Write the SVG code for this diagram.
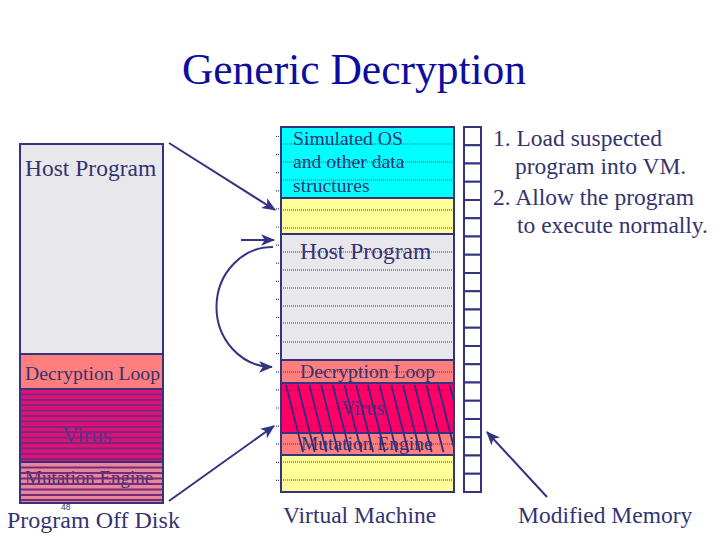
<svg xmlns="http://www.w3.org/2000/svg" width="720" height="540" viewBox="0 0 720 540">
<style>
.t{font-family:"Liberation Serif","Times New Roman",serif;fill:#333370}
.box{stroke:#333380;stroke-width:2}
.dot{stroke:#333380;stroke-width:1.2;stroke-dasharray:1 1;fill:none}
.con{stroke:#333380;stroke-width:2;fill:none}
.str{stroke:#762a7a;stroke-width:1.8}
.hat{stroke:#2e2e80;stroke-width:1.8}
.cell{fill:#fff;stroke:#333380;stroke-width:2}
</style>
<defs>
<marker id="ah" viewBox="0 0 12 10" refX="11" refY="5" markerWidth="7" markerHeight="6" orient="auto" markerUnits="strokeWidth">
<path d="M0,0 L12,5 L0,10 L3,5 Z" fill="#333380"/>
</marker>
<clipPath id="vmclip"><rect x="282" y="383" width="171" height="72"/></clipPath>
</defs>
<rect width="720" height="540" fill="#fff"/>
<text id="title" x="354" y="84" text-anchor="middle" font-family="Liberation Serif, Times New Roman, serif" font-size="43.5" fill="#0d0d9e">Generic Decryption</text>

<g id="program-off-disk">
<rect x="20" y="144" width="143" height="210" fill="#e8e8ec" class="box"/>
<rect x="20" y="354" width="143" height="35" fill="#ff7f7f" class="box"/>
<rect x="20" y="389" width="143" height="73" fill="#dd1177" class="box"/>
<rect x="20" y="462" width="143" height="41" fill="#e8869a" class="box"/>
<text class="t" x="25" y="176" font-size="23.5">Host Program</text>
<text class="t" x="25" y="380" font-size="19.7">Decryption Loop</text>
<text class="t" x="62" y="443" font-size="23" style="fill:#5a2f9a">Virus</text>
<text class="t" x="25" y="484" font-size="19">Mutation Engine</text>
<g class="str">
<line x1="21" y1="394.4" x2="162" y2="394.4"/><line x1="21" y1="399.8" x2="162" y2="399.8"/><line x1="21" y1="405.2" x2="162" y2="405.2"/><line x1="21" y1="410.6" x2="162" y2="410.6"/><line x1="21" y1="416" x2="162" y2="416"/><line x1="21" y1="421.4" x2="162" y2="421.4"/><line x1="21" y1="426.8" x2="162" y2="426.8"/><line x1="21" y1="432.2" x2="162" y2="432.2"/><line x1="21" y1="437.6" x2="162" y2="437.6"/><line x1="21" y1="443" x2="162" y2="443"/><line x1="21" y1="448.4" x2="162" y2="448.4"/><line x1="21" y1="453.8" x2="162" y2="453.8"/><line x1="21" y1="459.2" x2="162" y2="459.2"/>
<line x1="21" y1="467.5" x2="162" y2="467.5"/><line x1="21" y1="473" x2="162" y2="473"/><line x1="21" y1="478.5" x2="162" y2="478.5"/><line x1="21" y1="484" x2="162" y2="484"/><line x1="21" y1="489.5" x2="162" y2="489.5"/><line x1="21" y1="495" x2="162" y2="495"/><line x1="21" y1="500" x2="162" y2="500"/>
</g>
<text x="61" y="510" font-family="Liberation Sans, Arial, sans-serif" font-size="8.5" fill="#333370">48</text>
<text class="t" x="7" y="528" font-size="24">Program Off Disk</text>
</g>

<g id="virtual-machine">
<rect x="281" y="127" width="173" height="71" fill="#00ffff" class="box"/>
<rect x="281" y="198" width="173" height="36" fill="#ffff99" class="box"/>
<rect x="281" y="234" width="173" height="126" fill="#e8e8ec" class="box"/>
<rect x="281" y="360" width="173" height="23" fill="#ff7f7f" class="box"/>
<rect x="281" y="383" width="173" height="50" fill="#ff0066" class="box"/>
<rect x="281" y="433" width="173" height="22" fill="#ff7f7f" class="box"/>
<rect x="281" y="455" width="173" height="37" fill="#ffff99" class="box"/>
<g class="dot">
<line x1="283" y1="144" x2="452" y2="144"/><line x1="283" y1="162" x2="452" y2="162"/><line x1="283" y1="180" x2="452" y2="180"/>
<line x1="283" y1="210" x2="452" y2="210"/><line x1="283" y1="228" x2="452" y2="228"/>
<line x1="283" y1="252" x2="452" y2="252"/><line x1="283" y1="270" x2="452" y2="270"/><line x1="283" y1="288" x2="452" y2="288"/><line x1="283" y1="306" x2="452" y2="306"/><line x1="283" y1="323" x2="452" y2="323"/><line x1="283" y1="342" x2="452" y2="342"/>
<line x1="283" y1="372" x2="452" y2="372"/><line x1="283" y1="390" x2="452" y2="390"/><line x1="283" y1="408" x2="452" y2="408"/><line x1="283" y1="426" x2="452" y2="426"/><line x1="283" y1="444" x2="452" y2="444"/><line x1="283" y1="462" x2="452" y2="462"/><line x1="283" y1="480" x2="452" y2="480"/>
<line x1="276" y1="136.5" x2="281" y2="136.5"/><line x1="276" y1="154.6" x2="281" y2="154.6"/><line x1="276" y1="172.7" x2="281" y2="172.7"/><line x1="276" y1="190.8" x2="281" y2="190.8"/><line x1="276" y1="208.9" x2="281" y2="208.9"/><line x1="276" y1="227" x2="281" y2="227"/><line x1="276" y1="245.1" x2="281" y2="245.1"/><line x1="276" y1="263.2" x2="281" y2="263.2"/><line x1="276" y1="281.3" x2="281" y2="281.3"/><line x1="276" y1="299.4" x2="281" y2="299.4"/><line x1="276" y1="317.5" x2="281" y2="317.5"/><line x1="276" y1="335.6" x2="281" y2="335.6"/><line x1="276" y1="353.7" x2="281" y2="353.7"/><line x1="276" y1="371.8" x2="281" y2="371.8"/><line x1="276" y1="389.9" x2="281" y2="389.9"/><line x1="276" y1="408" x2="281" y2="408"/><line x1="276" y1="426.1" x2="281" y2="426.1"/><line x1="276" y1="444.2" x2="281" y2="444.2"/><line x1="276" y1="462.3" x2="281" y2="462.3"/><line x1="276" y1="480.4" x2="281" y2="480.4"/>
</g>
<text class="t" x="293" y="145" font-size="19.7">Simulated OS</text>
<text class="t" x="293" y="168" font-size="19.7">and other data</text>
<text class="t" x="293" y="192" font-size="19.7">structures</text>
<text class="t" x="300" y="259" font-size="23.5">Host Program</text>
<text class="t" x="300" y="378" font-size="19.7">Decryption Loop</text>
<text class="t" x="341" y="415" font-size="20" style="fill:#4a2a8a">Virus</text>
<text class="t" x="301" y="450" font-size="19.5">Mutation Engine</text>
<g class="hat" clip-path="url(#vmclip)">
<line x1="286" y1="385" x2="303" y2="452"/><line x1="297.7" y1="385" x2="314.7" y2="452"/><line x1="309.4" y1="385" x2="326.4" y2="452"/><line x1="321.1" y1="385" x2="338.1" y2="452"/><line x1="332.8" y1="385" x2="349.8" y2="452"/><line x1="344.5" y1="385" x2="361.5" y2="452"/><line x1="356.2" y1="385" x2="373.2" y2="452"/><line x1="367.9" y1="385" x2="384.9" y2="452"/><line x1="379.6" y1="385" x2="396.6" y2="452"/><line x1="391.3" y1="385" x2="408.3" y2="452"/><line x1="403" y1="385" x2="420" y2="452"/><line x1="414.7" y1="385" x2="431.7" y2="452"/><line x1="426.4" y1="385" x2="443.4" y2="452"/><line x1="438.1" y1="385" x2="455.1" y2="452"/><line x1="449.8" y1="385" x2="466.8" y2="452"/>
</g>
<text class="t" x="283" y="523" font-size="23.5">Virtual Machine</text>
</g>

<g id="modified-memory">
<rect x="464" y="127" width="17" height="18.25" class="cell"/><rect x="464" y="145.25" width="17" height="18.25" class="cell"/><rect x="464" y="163.5" width="17" height="18.25" class="cell"/><rect x="464" y="181.75" width="17" height="18.25" class="cell"/><rect x="464" y="200" width="17" height="18.25" class="cell"/><rect x="464" y="218.25" width="17" height="18.25" class="cell"/><rect x="464" y="236.5" width="17" height="18.25" class="cell"/><rect x="464" y="254.75" width="17" height="18.25" class="cell"/><rect x="464" y="273" width="17" height="18.25" class="cell"/><rect x="464" y="291.25" width="17" height="18.25" class="cell"/><rect x="464" y="309.5" width="17" height="18.25" class="cell"/><rect x="464" y="327.75" width="17" height="18.25" class="cell"/><rect x="464" y="346" width="17" height="18.25" class="cell"/><rect x="464" y="364.25" width="17" height="18.25" class="cell"/><rect x="464" y="382.5" width="17" height="18.25" class="cell"/><rect x="464" y="400.75" width="17" height="18.25" class="cell"/><rect x="464" y="419" width="17" height="18.25" class="cell"/><rect x="464" y="437.25" width="17" height="18.25" class="cell"/><rect x="464" y="455.5" width="17" height="18.25" class="cell"/><rect x="464" y="473.75" width="17" height="18.25" class="cell"/>
<text class="t" x="518" y="523" font-size="23.5">Modified Memory</text>
</g>

<g id="steps">
<text class="t" x="493" y="146" font-size="23.5">1. Load suspected</text>
<text class="t" x="515" y="174" font-size="23.5">program into VM.</text>
<text class="t" x="493" y="205" font-size="23.5">2. Allow the program</text>
<text class="t" x="517" y="233" font-size="23.5">to execute normally.</text>
</g>

<g id="connectors" class="con">
<line x1="169" y1="143" x2="275" y2="210" marker-end="url(#ah)"/>
<line x1="169" y1="501" x2="274" y2="426" marker-end="url(#ah)"/>
<line x1="241" y1="240" x2="274" y2="240" marker-end="url(#ah)"/>
<path d="M273,247 A56,60 0 0 0 272,367" marker-end="url(#ah)"/>
<line x1="547" y1="497" x2="487" y2="432" marker-end="url(#ah)"/>
</g>
</svg>
